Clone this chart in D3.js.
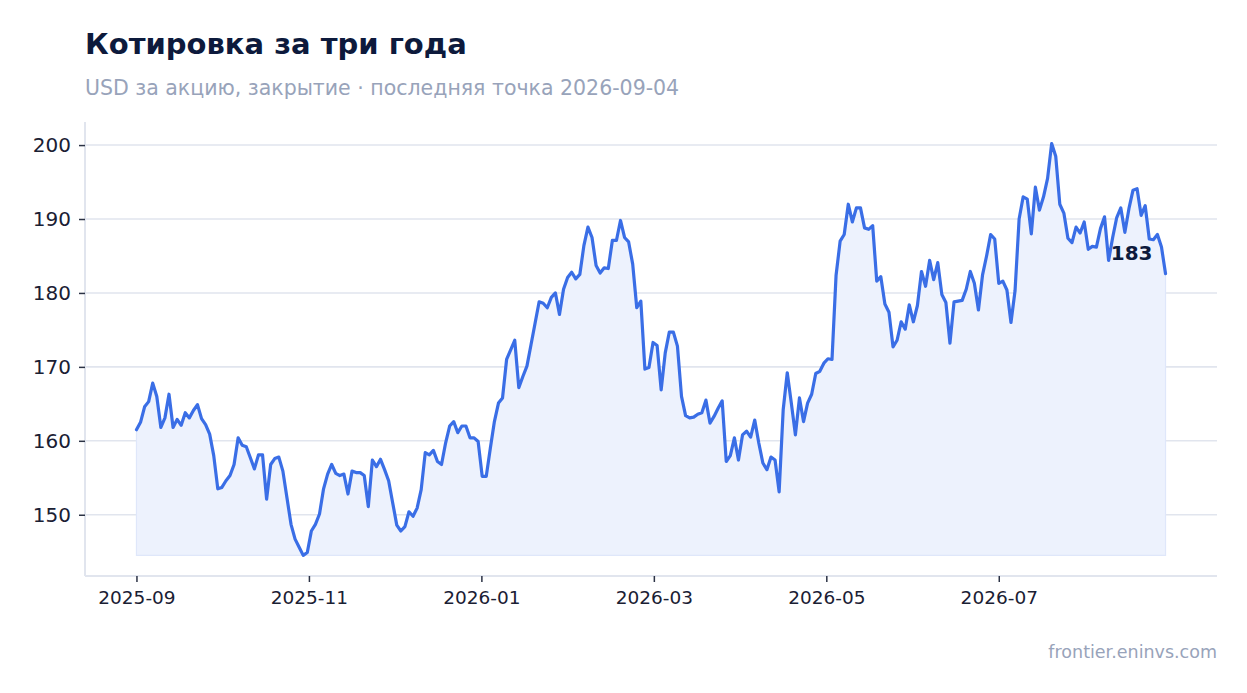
<!DOCTYPE html>
<html><head><meta charset="utf-8">
<script src="https://cdn.jsdelivr.net/npm/d3@7/dist/d3.min.js"></script>
<style>
html,body{margin:0;padding:0;background:#fff;}
svg{display:block;font-family:"DejaVu Sans",sans-serif;}
</style></head>
<body>
<svg id="chart" width="1247" height="693"></svg>
<script>
// Closing prices, one per trading session, 2025-09 … 2026-09-04
const closes = [
161.5,162.5,164.6,165.3,167.8,166.0,161.8,163.1,166.3,161.8,
162.9,162.1,163.8,163.1,164.1,164.9,163.0,162.2,160.9,158.0,
153.5,153.7,154.6,155.3,156.8,160.4,159.4,159.2,157.7,156.2,
158.1,158.1,152.1,156.8,157.6,157.8,155.9,152.3,148.7,146.7,
145.6,144.5,144.9,147.8,148.7,150.1,153.5,155.5,156.8,155.6,
155.3,155.5,152.8,155.9,155.7,155.7,155.3,151.1,157.4,156.5,
157.5,156.1,154.6,151.6,148.6,147.8,148.4,150.4,149.8,150.9,
153.4,158.4,158.1,158.7,157.2,156.8,159.7,162.0,162.6,161.1,
162.0,162.0,160.4,160.4,159.9,155.2,155.2,159.0,162.6,165.1,
165.8,171.0,172.3,173.6,167.2,168.7,170.1,173.0,175.9,178.8,
178.6,178.0,179.4,180.0,177.1,180.5,182.1,182.8,181.9,182.5,
186.4,188.9,187.5,183.7,182.7,183.4,183.3,187.1,187.1,189.8,
187.5,186.9,183.9,178.0,178.9,169.7,169.9,173.3,172.9,166.9,
171.9,174.7,174.7,172.8,166.0,163.4,163.1,163.2,163.6,163.8,
165.5,162.4,163.3,164.4,165.4,157.2,158.0,160.4,157.4,160.8,
161.3,160.5,162.8,159.7,157.0,156.1,157.8,157.4,153.1,164.2,
169.2,165.1,160.8,165.8,162.6,165.1,166.3,169.1,169.4,170.5,
171.1,171.0,182.4,187.0,187.9,192.0,189.6,191.5,191.5,188.8,
188.6,189.1,181.6,182.2,178.5,177.4,172.7,173.6,176.1,175.1,
178.4,176.1,178.3,182.9,180.9,184.4,181.8,184.1,179.8,178.7,
173.2,178.8,178.9,179.0,180.5,182.9,181.3,177.7,182.4,185.0,
187.9,187.3,181.3,181.6,180.4,176.0,180.3,190.0,193.0,192.7,
188.0,194.3,191.2,193.0,195.5,200.2,198.5,192.0,190.8,187.4,
186.8,188.9,188.1,189.6,185.9,186.3,186.2,188.7,190.3,184.4,
187.5,190.2,191.5,188.2,191.4,193.9,194.1,190.5,191.8,187.3,
187.2,187.9,186.2,182.6
];
const xTickLabels = ["2025-09","2025-11","2026-01","2026-03","2026-05","2026-07"];
const yTickValues = [150,160,170,180,190,200];
const titleText = "Котировка за три года";
const subtitleText = "USD за акцию, закрытие · последняя точка 2026-09-04";
const sourceText = "frontier.eninvs.com";

const W = 1247, H = 693;
const m = {left:85, right:30, top:123, bottom:117};
const svg = d3.select("#chart");

const n = closes.length;
const padX = (n - 1) * 0.05;
const x = d3.scaleLinear().domain([-padX, n - 1 + padX]).range([m.left, W - m.right]);
const [mn, mx] = d3.extent(closes);
const padY = (mx - mn) * 0.05;
const y = d3.scaleLinear().domain([mn - padY, mx + padY]).range([H - m.bottom, m.top]);

// grid
svg.append("g").selectAll("line").data(yTickValues).join("line")
  .attr("x1", m.left).attr("x2", W - m.right)
  .attr("y1", d => y(d)).attr("y2", d => y(d))
  .attr("stroke", "#e1e5ee").attr("stroke-width", 1.6);

// area
const area = d3.area().x((d,i) => x(i)).y0(y(mn)).y1(d => y(d));
svg.append("path").datum(closes).attr("d", area)
  .attr("fill", "#edf2fd").attr("stroke", "#dfe7fa").attr("stroke-width", 1.2);

// line
const line = d3.line().x((d,i) => x(i)).y(d => y(d));
svg.append("path").datum(closes).attr("d", line)
  .attr("fill", "none").attr("stroke", "#3a6ee6").attr("stroke-width", 3.2)
  .attr("stroke-linejoin", "round").attr("stroke-linecap", "round");

// axes
const tickStep = 42.4; // ≈ two months of sessions
const xTickIdx = xTickLabels.map((d,k) => k * tickStep);
const xAxis = d3.axisBottom(x).tickValues(xTickIdx)
  .tickFormat((d,k) => xTickLabels[k]).tickSize(6).tickPadding(9);
const gx = svg.append("g").attr("transform", `translate(0,${H - m.bottom})`).call(xAxis);
gx.select(".domain").attr("stroke", "#e1e5ee").attr("stroke-width", 2)
  .attr("d", `M${m.left},0H${W - m.right}`);
gx.selectAll(".tick line").attr("stroke", "#2b3245").attr("stroke-width", 1.5);
gx.selectAll(".tick text").attr("fill", "#1a2033").style("font-size", "18.5px")
  .style("font-family", "DejaVu Sans");

const yAxis = d3.axisLeft(y).tickValues(yTickValues).tickSize(6).tickPadding(8);
const gy = svg.append("g").attr("transform", `translate(${m.left},0)`).call(yAxis);
gy.select(".domain").attr("stroke", "#e1e5ee").attr("stroke-width", 2)
  .attr("d", `M0,${m.top - 1}V${H - m.bottom}`);
gy.selectAll(".tick line").attr("stroke", "#2b3245").attr("stroke-width", 1.5);
gy.selectAll(".tick text").attr("fill", "#1a2033").style("font-size", "20px")
  .style("font-family", "DejaVu Sans");

// last value label
const last = closes[n - 1];
svg.append("text").attr("x", x(n - 1) - 13).attr("y", y(last) - 14)
  .attr("text-anchor", "end").attr("fill", "#0d1a3c")
  .style("font-size", "20px").style("font-weight", "bold")
  .text(Math.round(last));

// titles
svg.append("text").attr("x", 85).attr("y", 54).attr("fill", "#0d1a3c")
  .style("font-size", "29px").style("font-weight", "bold").text(titleText);
svg.append("text").attr("x", 85).attr("y", 95).attr("fill", "#98a3ba")
  .style("font-size", "20.5px").text(subtitleText);
svg.append("text").attr("x", W - m.right).attr("y", 658).attr("text-anchor", "end")
  .attr("fill", "#98a3ba").style("font-size", "17.5px").text(sourceText);
</script>
</body></html>
